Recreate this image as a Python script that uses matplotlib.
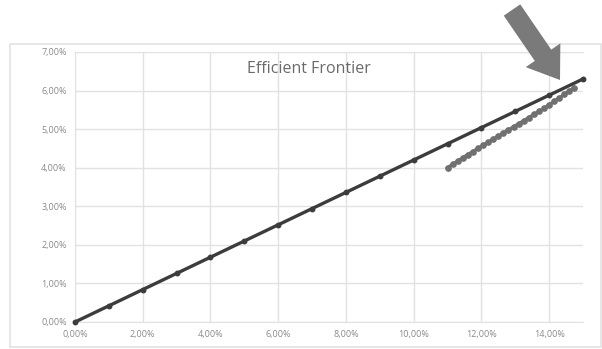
import matplotlib
matplotlib.use("Agg")
import matplotlib.pyplot as plt
from matplotlib.patches import FancyArrow, Rectangle
from matplotlib.ticker import FuncFormatter

# capital market line (risk %, return %)
cml_risk = [0, 1, 2, 3, 4, 5, 6, 7, 8, 9, 10, 11, 12, 13, 14, 15]
cml_return = [0.00, 0.42, 0.84, 1.26, 1.68, 2.10, 2.52, 2.94, 3.36, 3.78,
              4.20, 4.62, 5.04, 5.46, 5.88, 6.30]

# efficient frontier of the risky assets
ef_risk = [11.00, 11.15, 11.30, 11.45, 11.60, 11.75, 11.90, 12.05, 12.20, 12.35,
           12.50, 12.65, 12.80, 12.95, 13.10, 13.25, 13.40, 13.55, 13.70, 13.85,
           14.00, 14.15, 14.30, 14.45, 14.60, 14.72]
ef_return = [4.00, 4.09, 4.17, 4.26, 4.34, 4.42, 4.50, 4.58, 4.66, 4.74,
             4.82, 4.90, 4.98, 5.06, 5.14, 5.22, 5.30, 5.38, 5.46, 5.54,
             5.63, 5.72, 5.81, 5.90, 5.99, 6.07]

x_ticks = [0, 2, 4, 6, 8, 10, 12, 14]
y_ticks = [0, 1, 2, 3, 4, 5, 6, 7]

plt.rcParams["font.family"] = ["Open Sans", "DejaVu Sans"]

W, H = 602, 349
fig = plt.figure(figsize=(W / 100, H / 100), dpi=100)
fig.patch.set_facecolor("white")

# chart border
fig.patches.append(Rectangle((10 / W, 2 / H), 591 / W, 303 / H, transform=fig.transFigure,
                             fill=False, edgecolor="#e3e3e3", linewidth=1.2))

ax = fig.add_axes([75 / W, (H - 322) / H, (583 - 75) / W, (322 - 52) / H])
ax.set_xlim(0, 15)
ax.set_ylim(0, 7)
ax.set_xticks(x_ticks)
ax.set_yticks(y_ticks)
pct = FuncFormatter(lambda v, p: ("%.2f%%" % v).replace(".", ","))
ax.xaxis.set_major_formatter(pct)
ax.yaxis.set_major_formatter(pct)
ax.tick_params(length=0, labelsize=6.5, colors="#8a8a8a", pad=6)
ax.grid(True, color="#e2e2e2", linewidth=1.0)
ax.set_axisbelow(True)
ax.spines["right"].set_visible(False)
for side in ["left", "bottom", "top"]:
    ax.spines[side].set_color("#e2e2e2")

ax.plot(cml_risk, cml_return, color="#3c3c3c", linewidth=2.4, marker="o",
        markersize=3.2, clip_on=False, zorder=3)
ax.plot(ef_risk, ef_return, color="#707070", linewidth=2.4, marker="o",
        markersize=3.8, clip_on=False, zorder=2)

fig.text(309 / W, (H - 69) / H, "Efficient Frontier", ha="center", va="center",
         fontsize=11.5, color="#6a6a6a")

# big grey arrow pointing at the tangency portfolio
sc = fig.dpi_scale_trans
x0, y0 = 5.12, (H - 10) / 100
x1, y1 = 5.60, (H - 80) / 100
fig.patches.append(FancyArrow(x0, y0, x1 - x0, y1 - y0, width=0.2, head_width=0.42,
                              head_length=0.3, length_includes_head=True,
                              transform=sc, color="#7a7a7a", linewidth=0))

fig.savefig("out.png", dpi=100)
